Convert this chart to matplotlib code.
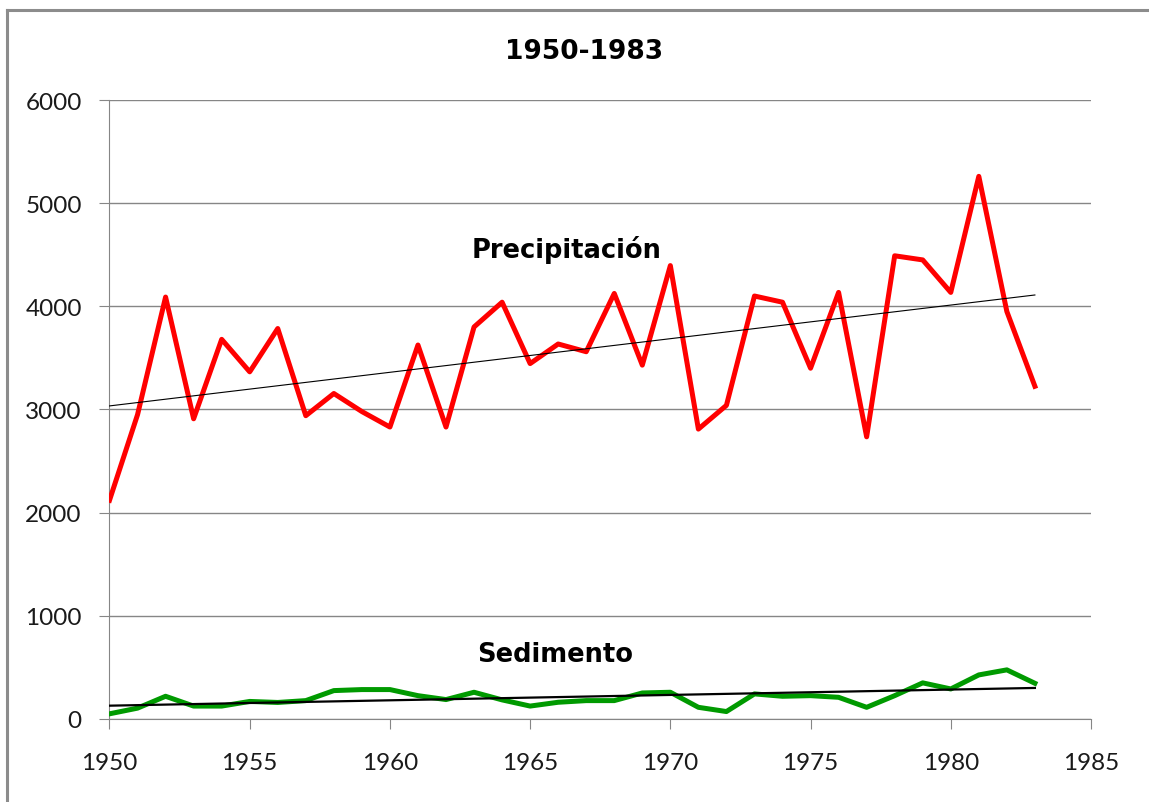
import matplotlib.pyplot as plt
import numpy as np

years = np.arange(1950, 1984)
precipitacion = [2120, 2950, 4090, 2910, 3680, 3365, 3785, 2940, 3155, 2980,
                 2830, 3625, 2830, 3800, 4040, 3445, 3635, 3560, 4125, 3430,
                 4395, 2810, 3040, 4100, 4040, 3400, 4135, 2735, 4490, 4450,
                 4135, 5260, 3950, 3225]
sedimento = [50, 105, 220, 125, 125, 170, 160, 178, 275, 285,
             285, 226, 188, 259, 185, 125, 162, 178, 178, 252,
             259, 113, 72, 243, 220, 226, 210, 113, 226, 350,
             291, 427, 476, 346]

plt.rcParams['font.family'] = ['Lato', 'DejaVu Sans']

fig = plt.figure(figsize=(11.49, 8.03), dpi=100)
ax = fig.add_axes([0.0953, 0.1034, 0.8542, 0.7708])

# outer frame (only top and left edges show)
fig.add_artist(plt.Line2D([0.006, 1.0], [0.986, 0.986], color='#8c8c8c', lw=2.2))
fig.add_artist(plt.Line2D([0.006, 0.006], [0.0, 0.986], color='#8c8c8c', lw=2.2))

ax.plot(years, precipitacion, color='#ff0000', lw=3.6, zorder=3)
ax.plot(years, sedimento, color='#009a00', lw=3.6, zorder=3)

# linear trends
p = np.polyfit(years, precipitacion, 1)
s = np.polyfit(years, sedimento, 1)
ends = np.array([years[0], years[-1]])
ax.plot(ends, np.polyval(p, ends), color='black', lw=0.8, zorder=4)
ax.plot(ends, np.polyval(s, ends), color='black', lw=1.6, zorder=4)

ax.set_xlim(1950, 1985)
ax.set_ylim(0, 6000)
ax.set_xticks(range(1950, 1986, 5))
ax.set_yticks(range(0, 6001, 1000))
ax.yaxis.grid(True, color='#868686', lw=1.0)
ax.set_axisbelow(True)
for side in ['top', 'right']:
    ax.spines[side].set_visible(False)
for side in ['left', 'bottom']:
    ax.spines[side].set_color('#868686')
ax.tick_params(axis='both', direction='out', length=7, color='#868686',
               labelsize=17.5, labelcolor='#1a1a1a')
ax.tick_params(axis='x', pad=17)
ax.tick_params(axis='y', pad=13)

fig.text(0.508, 0.935, '1950-1983', ha='center', va='center',
         fontsize=19, fontweight='bold', family='DejaVu Sans')
ax.text(1966.3, 4560, 'Precipitación', ha='center', va='center',
        fontsize=18.5, fontweight='bold', family='DejaVu Sans')
ax.text(1965.9, 630, 'Sedimento', ha='center', va='center',
        fontsize=18.5, fontweight='bold', family='DejaVu Sans')

fig.savefig('out.png', dpi=100)
